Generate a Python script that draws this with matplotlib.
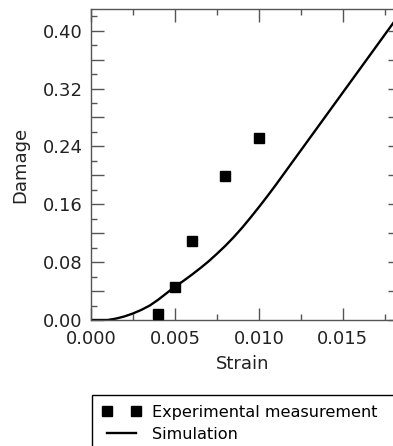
import numpy as np
import matplotlib
matplotlib.use("Agg")
import matplotlib.pyplot as plt
from matplotlib.ticker import MultipleLocator, FuncFormatter

# datos experimentales
exp_strain = [0.004, 0.005, 0.006, 0.008, 0.010]
exp_damage = [0.008, 0.046, 0.109, 0.199, 0.251]

# curva de simulacion
sim_strain = [0.0, 0.001, 0.0015, 0.002, 0.0025, 0.003, 0.0035, 0.004, 0.0045,
              0.005, 0.0055, 0.006, 0.0065, 0.007, 0.0075, 0.008, 0.0085, 0.009,
              0.0095, 0.010, 0.0105, 0.011, 0.012, 0.013, 0.014, 0.015, 0.016,
              0.017, 0.018]
sim_damage = [0.0, 0.0, 0.002, 0.005, 0.009, 0.014, 0.020, 0.028, 0.037,
              0.046, 0.054, 0.0625, 0.0715, 0.081, 0.0915, 0.1025, 0.1145, 0.1275,
              0.1415, 0.156, 0.171, 0.1865, 0.2185, 0.2505, 0.2825, 0.3145, 0.3465,
              0.3785, 0.4105]

W, H = 393, 446
fig = plt.figure(figsize=(W / 100, H / 100), dpi=100)
ax = fig.add_axes([91 / W, (H - 320) / H, 303 / W, 311 / H])

ax.plot(exp_strain, exp_damage, ls="none", marker="s", ms=7.5, color="black",
        label="Experimental measurement", clip_on=False, zorder=3)
ax.plot(sim_strain, sim_damage, color="black", lw=1.7, label="Simulation",
        solid_joinstyle="round")

ax.set_xlim(0, 0.01805)
ax.set_ylim(0, 0.43)

gray = "#555555"
for s in ax.spines.values():
    s.set_color(gray)
    s.set_linewidth(1.0)
ax.spines["right"].set_visible(False)

ax.xaxis.set_major_locator(MultipleLocator(0.005))
ax.xaxis.set_minor_locator(MultipleLocator(0.0025))
ax.xaxis.set_major_formatter(FuncFormatter(lambda v, p: f"{v:.3f}"))

ax.yaxis.set_major_locator(MultipleLocator(0.04))
ax.yaxis.set_minor_locator(MultipleLocator(0.02))
# solo se etiqueta cada 0.08
ax.yaxis.set_major_formatter(FuncFormatter(
    lambda v, p: f"{v:.2f}" if abs(round(v / 0.08) * 0.08 - v) < 1e-6 else ""))

ax.tick_params(which="both", direction="in", color=gray, width=1.0,
               top=True, bottom=True, left=True, right=False,
               labelsize=13, labelcolor="#222222")
ax.tick_params(which="major", length=9)
ax.tick_params(which="minor", length=4)
ax.tick_params(axis="x", pad=7)
ax.tick_params(axis="y", pad=6)

# ticks cortos del lado derecho
ax2 = ax.twinx()
ax2.set_ylim(ax.get_ylim())
ax2.yaxis.set_major_locator(MultipleLocator(0.04))
ax2.tick_params(direction="in", length=4, color=gray, width=1.0, labelright=False)
for s in ax2.spines.values():
    s.set_visible(False)

ax.set_xlabel("Strain", fontsize=13, color="#222222", labelpad=5)
ax.set_ylabel("Damage", fontsize=13, color="#222222", labelpad=10)

handles, labels = ax.get_legend_handles_labels()
leg = fig.legend(handles, labels, loc="upper left",
                 bbox_to_anchor=(92 / W, (H - 395) / H, 1.1 - 92 / W, 0.0),
                 mode="expand",
                 fontsize=11.6, numpoints=2, handlelength=2.4, handletextpad=0.7,
                 labelspacing=0.45, borderpad=0.6, borderaxespad=0,
                 fancybox=False, framealpha=1, edgecolor="black")
leg.get_frame().set_linewidth(1.0)

fig.savefig("out.png", dpi=100)
